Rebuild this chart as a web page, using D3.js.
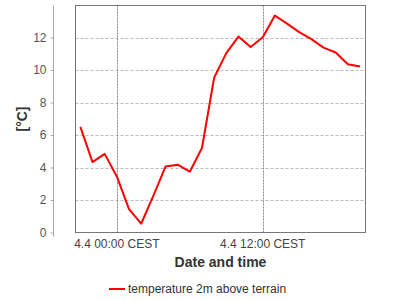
<!DOCTYPE html>
<html lang="en">
<head>
<meta charset="UTF-8">
<title>Temperature</title>
<script src="https://d3js.org/d3.v7.min.js"></script>
<style>
  body { margin: 0; background: #fff; font-family: "Liberation Sans", Arial, sans-serif; }
  svg { display: block; }
</style>
</head>
<body>
<svg width="400" height="300"></svg>
<script>
// hourly values, 3.4 21:00 .. 4.4 20:00 CEST
const hours = d3.range(-3, 21);
const temps = [6.5, 4.33, 4.84, 3.45, 1.44, 0.54, 2.25, 4.06, 4.17, 3.74, 5.2, 9.52,
               11.04, 12.06, 11.41, 12.02, 13.35, 12.85, 12.33, 11.9, 11.38, 11.08, 10.36, 10.22];
const yTicks = [0, 2, 4, 6, 8, 10, 12];
const xTicks = [0, 12];
const xTickLabels = ["4.4 00:00 CEST", "4.4 12:00 CEST"];
const seriesName = "temperature 2m above terrain";

const svg = d3.select("svg");
const plotL = 75.5, plotR = 365.5, plotT = 5.5, plotB = 232.5;

const x = d3.scaleLinear().domain([-3.4, 20.45]).range([plotL, plotR]);
const y = d3.scaleLinear().domain([0, 13.97]).range([plotB, plotT]);

// grid
svg.append("g").selectAll("line").data(yTicks.filter(d => d > 0)).join("line")
  .attr("x1", plotL).attr("x2", plotR)
  .attr("y1", d => Math.round(y(d)) + 0.5).attr("y2", d => Math.round(y(d)) + 0.5)
  .attr("stroke", "#bbb").attr("stroke-dasharray", "3,2");
svg.append("g").selectAll("line").data(xTicks).join("line")
  .attr("x1", d => Math.round(x(d)) + 0.5).attr("x2", d => Math.round(x(d)) + 0.5)
  .attr("y1", plotT).attr("y2", plotB)
  .attr("stroke", "#888").attr("stroke-dasharray", "2,1");

// frame
svg.append("rect").attr("x", plotL).attr("y", plotT)
  .attr("width", plotR - plotL).attr("height", plotB - plotT)
  .attr("fill", "none").attr("stroke", "#777");

// y axis, offset left of the frame
const yAxis = d3.axisLeft(y).tickValues(yTicks).tickSize(3).tickPadding(4);
const ga = svg.append("g").attr("transform", "translate(53.5,0)").call(yAxis);
ga.select(".domain").attr("d", `M0,${plotT}V${plotB + 4}`).attr("stroke", "#aaa");
ga.selectAll(".tick line").attr("stroke", "#aaa");
ga.selectAll("text").attr("fill", "#555").style("font-size", "12px")
  .style("font-family", "Liberation Sans, Arial, sans-serif");

// x tick labels
svg.append("g").selectAll("text").data(xTicks).join("text")
  .attr("x", d => x(d)).attr("y", 248)
  .attr("text-anchor", "middle").attr("fill", "#444").style("font-size", "12px")
  .text((d, i) => xTickLabels[i]);

// axis titles
svg.append("text").attr("x", (plotL + plotR) / 2).attr("y", 267)
  .attr("text-anchor", "middle").attr("fill", "#333")
  .style("font-size", "14px").style("font-weight", "bold").text("Date and time");
svg.append("text").attr("transform", `translate(27,${(plotT + plotB) / 2}) rotate(-90)`)
  .attr("text-anchor", "middle").attr("fill", "#333")
  .style("font-size", "14px").style("font-weight", "bold").text("[°C]");

// line
const line = d3.line().x((d, i) => x(hours[i])).y(d => y(d));
svg.append("path").datum(temps).attr("d", line)
  .attr("fill", "none").attr("stroke", "#f00").attr("stroke-width", 2)
  .attr("stroke-linejoin", "round");

// legend
svg.append("line").attr("x1", 109).attr("x2", 125).attr("y1", 289).attr("y2", 289)
  .attr("stroke", "#f00").attr("stroke-width", 2);
svg.append("text").attr("x", 128).attr("y", 293).attr("fill", "#333")
  .style("font-size", "12px").text(seriesName);
</script>
</body>
</html>
